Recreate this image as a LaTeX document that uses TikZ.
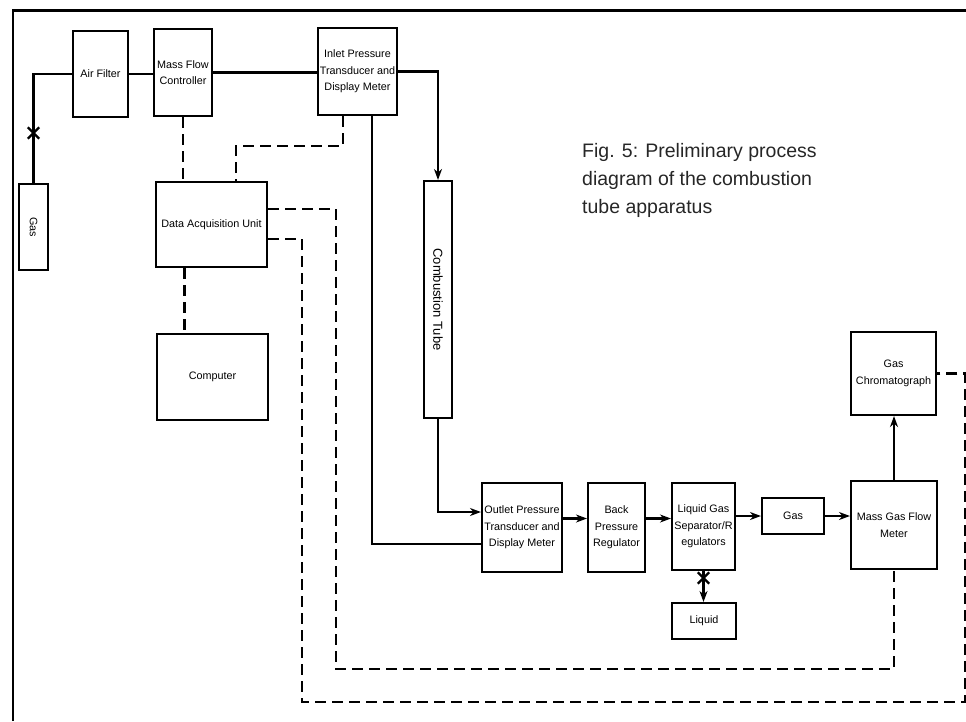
\documentclass[tikz,border=0pt]{standalone}
\usepackage{fontspec}
\setmainfont{Liberation Sans}
\usetikzlibrary{arrows.meta,shapes.misc}
\begin{document}
\begin{tikzpicture}[x=1pt,y=-1pt,
  box/.style={draw,line width=2.1pt,rectangle,inner sep=0pt,align=center,
    font=\fontsize{10.8}{16.5}\selectfont},
  pipe/.style={line width=2.2pt},
  arr/.style={line width=2.2pt,-{Stealth[length=11pt,width=8pt]}},
  sig/.style={line width=2.4pt,dash pattern=on 11pt off 6pt},
  xm/.style={cross out,draw,line width=2.4pt,minimum size=9pt,inner sep=0pt},
  captext/.style={anchor=base west,inner sep=0pt,font=\fontsize{19.5}{28}\selectfont,text=black!85}]
\useasboundingbox (0,0) rectangle (966,721);
% frame
\draw[line width=2.2pt] (13,721) -- (13,10);
\draw[line width=3pt] (12,10) -- (966,10);

% boxes
\node[box,minimum width=29pt,minimum height=86pt] (gasL) at (33.5,227) {\rotatebox{-90}{Gas}};
\node[box,minimum width=55pt,minimum height=86pt] (air) at (100.5,74) {Air Filter};
\node[box,minimum width=58pt,minimum height=87pt] (mfc) at (183,72.5) {Mass Flow\\Controller};
\node[box,minimum width=79pt,minimum height=87pt] (inlet) at (357.5,71.5) {Inlet Pressure\\Transducer and\\Display Meter};
\node[box,minimum width=111pt,minimum height=85pt] (daq) at (211.5,224.5) {Data Acquisition Unit};
\node[box,minimum width=111pt,minimum height=86pt] (comp) at (212.5,377) {Computer};
\node[box,minimum width=28pt,minimum height=237pt,font=\fontsize{13}{15}\selectfont] (comb) at (438,299.5) {\rotatebox{-90}{Combustion Tube}};
\node[box,minimum width=80pt,minimum height=89pt] (outlet) at (522,527.5) {Outlet Pressure\\Transducer and\\Display Meter};
\node[box,minimum width=57pt,minimum height=89pt] (bpr) at (616.5,527.5) {Back\\Pressure\\Regulator};
\node[box,minimum width=63pt,minimum height=87pt] (lgs) at (703.5,526.5) {Liquid Gas\\Separator/R\\egulators};
\node[box,minimum width=62pt,minimum height=36pt] (gasR) at (793,516) {Gas};
\node[box,minimum width=86pt,minimum height=88pt] (mgfm) at (894,525) {Mass Gas Flow\\Meter};
\node[box,minimum width=64pt,minimum height=36pt] (liquid) at (704,621) {Liquid};
\node[box,minimum width=85pt,minimum height=83pt] (gc) at (893.5,373.5) {Gas\\Chromatograph};

% caption
\node[captext] (cap1) at (582,157) {Fig. 5: Preliminary process};
\node[captext] (cap2) at (582,185) {diagram of the combustion};
\node[captext] (cap3) at (582,213) {tube apparatus};

% solid process lines
\draw[pipe] (gasL.north) |- (air.west);
\node[xm] (x1) at (33.5,133) {};
\draw[pipe] (air.east) -- (air.east -| mfc.west);
\draw[pipe] (mfc.east) -- (mfc.east -| inlet.west);
\draw[arr] (inlet.east) -| (comb.north);
\draw[pipe] ([xshift=14.5pt]inlet.south) |- ([yshift=-16.5pt]outlet.west);
\draw[arr] (comb.south) |- ([yshift=15.5pt]outlet.west);
\draw[arr] ([yshift=9pt]outlet.east) -- ([yshift=9pt]outlet.east -| bpr.west);
\draw[arr] ([yshift=9pt]bpr.east) -- ([yshift=9pt]bpr.east -| lgs.west);
\draw[arr] (lgs.east |- gasR.west) -- (gasR.west);
\draw[arr] (gasR.east) -- (gasR.east -| mgfm.west);
\draw[arr] (mgfm.north) -- (mgfm.north |- gc.south);
\draw[arr] (lgs.south) -- (lgs.south |- liquid.north);
\node[xm] (x2) at (703.5,578) {};

% dashed signal lines
\coordinate (j1) at (236,146);
\coordinate (j3) at (336,669);
\coordinate (j4) at (302,702);
\coordinate (j5) at (965,702);
\draw[sig] (mfc.south) -- (mfc.south |- daq.north);
\draw[sig] ([xshift=-14.5pt]inlet.south) |- (j1) -- (j1 |- daq.north);
\draw[sig] ([xshift=-27pt]daq.south) -- ([xshift=-27pt]daq.south |- comp.north);
\draw[sig] ([yshift=15.5pt]daq.east) -| (j3) -| (mgfm.south);
\draw[sig] ([yshift=-14.5pt]daq.east) -| (j4) -- (j5) |- (gc.east);
\end{tikzpicture}
\end{document}
